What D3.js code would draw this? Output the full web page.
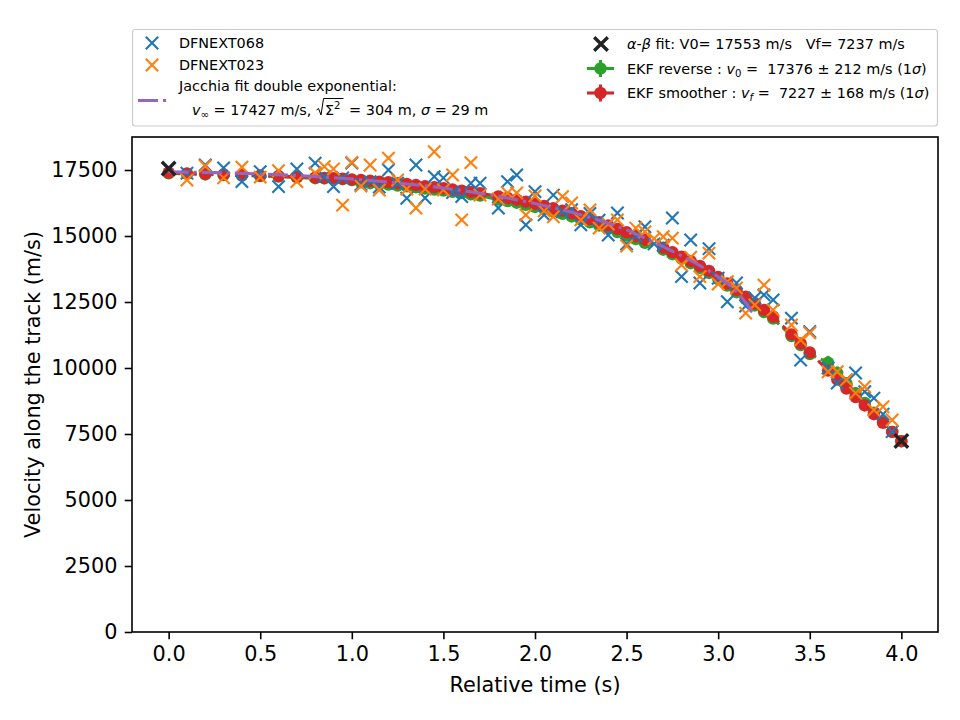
<!DOCTYPE html>
<html>
<head>
<meta charset="utf-8">
<script src="https://cdn.jsdelivr.net/npm/d3@7"></script>
<style>
  body { margin: 0; background: #fff; }
  text { font-family: "DejaVu Sans", sans-serif; }
</style>
</head>
<body>
<script>
var width = 960,
    height = 720;

// camera observations (time s, velocity m/s)
var tObs = [0.1,0.2,0.3,0.4,0.5,0.6,0.7,0.8,0.85,0.9,0.95,1.0,1.05,1.1,1.15,1.2,1.25,1.3,1.35,1.4,1.45,1.5,1.55,1.6,1.65,1.7,
  1.8,1.85,1.9,1.95,2.0,2.05,2.1,2.15,2.2,2.25,2.3,2.35,2.4,2.45,2.5,2.55,2.6,2.65,2.7,2.75,2.8,2.85,2.9,2.95,3.0,3.05,3.1,3.15,3.2,3.25,3.3,
  3.4,3.45,3.5,3.6,3.65,3.7,3.75,3.8,3.85,3.9,3.95];
var v068 = [17380,17690,17580,17060,17440,16870,17540,17760,17250,16870,17200,17760,
  16950,17060,16850,17500,17000,16430,17690,16440,17250,17200,16650,16490,17000,17000,
  16060,17060,17310,15420,16680,15800,16550,15920,16000,15420,15850,15600,15040,15870,14700,15000,15350,14700,14650,15680,13460,14850,13220,14520,13400,12510,13220,12350,12650,12770,12580,
  11890,10300,11380,10000,9430,9550,9810,9100,8860,8250,7590];
var v023 = [17120,17650,17200,17610,17230,17470,17060,17390,17630,17540,16170,17790,
  16890,17690,16740,17950,17120,16780,16060,16780,18190,16740,17310,15610,17780,16550,
  16400,16630,16630,15800,16520,15950,15730,16490,16250,15610,15990,15300,15450,15610,14620,15300,15160,14900,14970,14920,13900,14200,13460,14350,13180,13270,13030,12080,12390,13140,12200,
  11630,11060,11330,9860,9860,9550,9050,9290,8410,8530,8030];

// EKF estimates
var tEKF = [0,0.1,0.2,0.3,0.4,0.5,0.6,0.7,0.8,0.85,0.9,0.95,1.0,
  1.05,1.1,1.15,1.2,1.25,1.3,1.35,1.4,1.45,1.5,1.55,1.6,1.65,1.7,
  1.8,1.85,1.9,1.95,2.0,2.05,2.1,2.15,2.2,2.25,2.3,2.35,2.4,2.45,2.5,2.55,2.6,
  2.7,2.75,2.8,2.85,2.9,2.95,3.0,3.05,3.1,3.15,3.2,3.25,3.3,
  3.4,3.45,3.5,3.6,3.65,3.7,3.75,3.8,3.85,3.9,3.95,4.0];
var vSmoother = [17400,17370,17350,17330,17310,17290,17270,17240,17210,17200,17190,17170,17140,
  17120,17090,17060,17040,17000,16970,16930,16890,16850,16810,16760,16720,16670,16620,
  16500,16440,16380,16300,16220,16140,16050,15960,15860,15750,15640,15520,15400,15270,15140,15000,14860,
  14560,14390,14220,14050,13870,13680,13450,13200,12950,12700,12450,12200,11950,
  11270,10930,10590,9900,9560,9220,8900,8580,8250,7920,7580,7227];
var errSmoother = [170,170,170,170,170,170,170,170,170,170,170,170,170,
  165,165,165,165,165,165,165,165,165,165,165,165,165,165,
  160,160,160,160,160,160,160,160,160,160,160,160,160,160,160,160,160,
  160,160,160,160,160,160,160,160,160,160,160,160,160,
  165,165,165,168,168,168,168,168,168,168,168,168];
var vReverse = [17376,17350,17330,17310,17290,17270,17250,17220,17190,17180,17170,17150,17120,
  17030,17000,16970,16950,16910,16880,16840,16800,16760,16720,16670,16630,16580,16530,
  16380,16320,16260,16180,16100,16020,15930,15840,15740,15630,15520,15400,15280,15150,15020,14880,14740,
  14480,14310,14140,13970,13790,13600,13370,13120,12870,12620,12370,12120,11870,
  11210,10870,10530,10200,9810,9420,9050,8680,8310,7950,7580,7227];
var errReverse = [212,210,208,206,204,202,200,198,196,195,194,193,192,
  190,190,190,190,190,190,190,190,190,190,190,190,190,190,
  185,185,185,185,185,185,185,185,185,185,185,185,185,185,185,185,185,
  190,190,190,190,190,190,190,190,190,190,190,190,190,
  200,200,200,260,250,240,230,220,210,200,190,180];

// Jacchia double exponential fit
var tJacchia = [0,0.25,0.5,0.75,1.0,1.25,1.5,1.75,2.0,2.25,2.5,2.6,2.7,2.8,2.9,3.0,3.1,3.19];
var vJacchia = [17430,17400,17350,17270,17160,17010,16820,16560,16230,15800,15230,14920,14600,14250,13880,13450,12900,12100];

// alpha-beta fit end points
var tAB = [0, 4.0];
var vAB = [17553, 7237];

var xTicks = [0,0.5,1.0,1.5,2.0,2.5,3.0,3.5,4.0];
var yTicks = [0,2500,5000,7500,10000,12500,15000,17500];

var C = {blue:"#1f77b4", orange:"#ff7f0e", green:"#2ca02c", red:"#d62728", purple:"#9467bd", black:"#222222"};

var x = d3.scaleLinear().domain([-0.2, 4.2]).range([132, 938]);
var y = d3.scaleLinear().domain([0, 18750]).range([632, 137]);

var svg = d3.select("body").append("svg")
    .attr("width", width)
    .attr("height", height);

svg.append("defs").append("clipPath").attr("id", "clip")
  .append("rect").attr("x", 132).attr("y", 137).attr("width", 806).attr("height", 495);

var plot = svg.append("g").attr("clip-path", "url(#clip)");

function crossPath(s) {
  return "M" + (-s) + "," + (-s) + "L" + s + "," + s + "M" + (-s) + "," + s + "L" + s + "," + (-s);
}

function drawEKF(vals, errs, color) {
  var pts = tEKF.map(function(t, i){ return [t, vals[i], errs[i]]; });
  var g = plot.append("g");
  g.selectAll("line.err").data(pts).enter().append("line")
      .attr("x1", function(d){ return x(d[0]); })
      .attr("x2", function(d){ return x(d[0]); })
      .attr("y1", function(d){ return y(d[1] - d[2]); })
      .attr("y2", function(d){ return y(d[1] + d[2]); })
      .attr("stroke", color).attr("stroke-width", 3);
  g.append("path").datum(pts)
      .attr("d", d3.line().x(function(d){ return x(d[0]); }).y(function(d){ return y(d[1]); }))
      .attr("fill", "none").attr("stroke", color).attr("stroke-width", 3.1)
      .attr("stroke-dasharray", "11.6,5");
  g.selectAll("circle").data(pts).enter().append("circle")
      .attr("cx", function(d){ return x(d[0]); })
      .attr("cy", function(d){ return y(d[1]); })
      .attr("r", 6.2).attr("fill", color);
}

drawEKF(vReverse, errReverse, C.green);
drawEKF(vSmoother, errSmoother, C.red);

function drawCrosses(ts, vs, color, s, w) {
  plot.append("g").selectAll("path").data(ts.map(function(t, i){ return [t, vs[i]]; }))
    .enter().append("path")
      .attr("transform", function(d){ return "translate(" + x(d[0]) + "," + y(d[1]) + ")"; })
      .attr("d", crossPath(s))
      .attr("fill", "none").attr("stroke", color).attr("stroke-width", w);
}

drawCrosses(tObs, v068, C.blue, 6.2, 2.1);
drawCrosses(tObs, v023, C.orange, 6.2, 2.1);

plot.append("path").datum(tJacchia.map(function(t, i){ return [t, vJacchia[i]]; }))
    .attr("d", d3.line().curve(d3.curveMonotoneX).x(function(d){ return x(d[0]); }).y(function(d){ return y(d[1]); }))
    .attr("fill", "none").attr("stroke", C.purple).attr("stroke-width", 3.1)
    .attr("stroke-dasharray", "20,5,3.1,5");

drawCrosses(tAB, vAB, C.black, 6.8, 3.4);

// axes frame
svg.append("rect").attr("x", 132).attr("y", 137).attr("width", 806).attr("height", 495)
    .attr("fill", "none").attr("stroke", "#000").attr("stroke-width", 1.6);

var xAxis = svg.append("g").attr("transform", "translate(0,632)")
    .call(d3.axisBottom(x).tickValues(xTicks).tickFormat(d3.format(".1f")).tickSize(7.3).tickPadding(7.3));
var yAxis = svg.append("g").attr("transform", "translate(132,0)")
    .call(d3.axisLeft(y).tickValues(yTicks).tickFormat(d3.format("d")).tickSize(7.3).tickPadding(7.3));
[xAxis, yAxis].forEach(function(a){
  a.select(".domain").remove();
  a.selectAll("line").attr("stroke-width", 1.6);
  a.selectAll("text").attr("font-size", 20.8).attr("font-family", "DejaVu Sans").attr("fill", "#000");
});

svg.append("text").attr("x", 535).attr("y", 692).attr("text-anchor", "middle")
    .style("font-size", "20.8px").text("Relative time (s)");
svg.append("text").attr("transform", "translate(40,384.5) rotate(-90)").attr("text-anchor", "middle")
    .style("font-size", "20.8px").text("Velocity along the track (m/s)");

// legend
var fs = 14.4;
var leg = svg.append("g");
leg.append("rect").attr("x", 132.5).attr("y", 29.5).attr("width", 805).attr("height", 96.5).attr("rx", 3)
    .attr("fill", "#fff").attr("stroke", "#cccccc").attr("stroke-width", 1.2);

function rich(x0, yb, segs) {
  var cx = x0, parts = [];
  segs.forEach(function(s){
    var sc = s.sc || 1;
    var t = leg.append("text").attr("x", cx).attr("y", yb + (s.dy || 0) * fs)
        .style("font-size", (fs * sc) + "px")
        .style("font-style", s.it ? "italic" : "normal")
        .style("white-space", "pre")
        .text(s.t);
    var w = t.node().getComputedTextLength();
    parts.push({x: cx, w: w});
    cx += w + (s.gap || 0);
  });
  return parts;
}

function legCross(cx, cy, color, s, w) {
  leg.append("path").attr("transform", "translate(" + cx + "," + cy + ")")
      .attr("d", crossPath(s)).attr("fill", "none").attr("stroke", color).attr("stroke-width", w);
}

legCross(152, 43, C.blue, 6.2, 2.1);
rich(179, 43 + 5.2, [{t: "DFNEXT068"}]);
legCross(152, 65, C.orange, 6.2, 2.1);
rich(179, 65 + 5.2, [{t: "DFNEXT023"}]);

leg.append("line").attr("x1", 138).attr("x2", 167).attr("y1", 100.5).attr("y2", 100.5)
    .attr("stroke", C.purple).attr("stroke-width", 3.1).attr("stroke-dasharray", "20,5,3.1,5");
rich(179, 86 + 5.2, [{t: "Jacchia fit double exponential:"}]);
var b2 = 115;
var p1 = rich(192, b2, [
  {t: "v", it: true}, {t: "\u221e", sc: 0.7, dy: 0.2},
  {t: " = 17427 m/s, ", gap: 9}
]);
var rx0 = p1[2].x + p1[2].w;
var p2 = rich(rx0 + 9, b2, [{t: "\u03a3"}, {t: "2", sc: 0.7, dy: -0.45}]);
var rEnd = p2[1].x + p2[1].w + 3;
leg.append("path")
    .attr("d", "M" + (rx0 + 0.5) + "," + (b2 - 5) + "L" + (rx0 + 2.5) + "," + (b2 - 6.5) + "L" + (rx0 + 5) + "," + b2 +
               "L" + (rx0 + 7.5) + "," + (b2 - 16.5) + "L" + rEnd + "," + (b2 - 16.5))
    .attr("fill", "none").attr("stroke", "#000").attr("stroke-width", 1);
rich(rEnd + 1, b2, [{t: " = 304 m, "}, {t: "\u03c3", it: true}, {t: " = 29 m"}]);

// right column
legCross(601, 44, C.black, 6.8, 3.4);
rich(627, 44 + 5.2, [{t: "\u03b1", it: true}, {t: "-"}, {t: "\u03b2", it: true}, {t: " fit: V0= 17553 m/s   Vf= 7237 m/s"}]);

function legEKF(cy, color) {
  leg.append("line").attr("x1", 587).attr("x2", 614).attr("y1", cy).attr("y2", cy)
      .attr("stroke", color).attr("stroke-width", 3.1);
  leg.append("line").attr("x1", 600.5).attr("x2", 600.5).attr("y1", cy - 8.5).attr("y2", cy + 8.5)
      .attr("stroke", color).attr("stroke-width", 3);
  leg.append("circle").attr("cx", 600.5).attr("cy", cy).attr("r", 6.2).attr("fill", color);
}
legEKF(68.5, C.green);
rich(627, 68.5 + 5.2, [{t: "EKF reverse : "}, {t: "v", it: true}, {t: "0", sc: 0.7, dy: 0.2},
  {t: " =  17376 \u00b1 212 m/s (1"}, {t: "\u03c3", it: true}, {t: ")"}]);
legEKF(93, C.red);
rich(627, 93 + 5.2, [{t: "EKF smoother : "}, {t: "v", it: true}, {t: "f", it: true, sc: 0.7, dy: 0.2},
  {t: " =  7227 \u00b1 168 m/s (1"}, {t: "\u03c3", it: true}, {t: ")"}]);
</script>
</body>
</html>
